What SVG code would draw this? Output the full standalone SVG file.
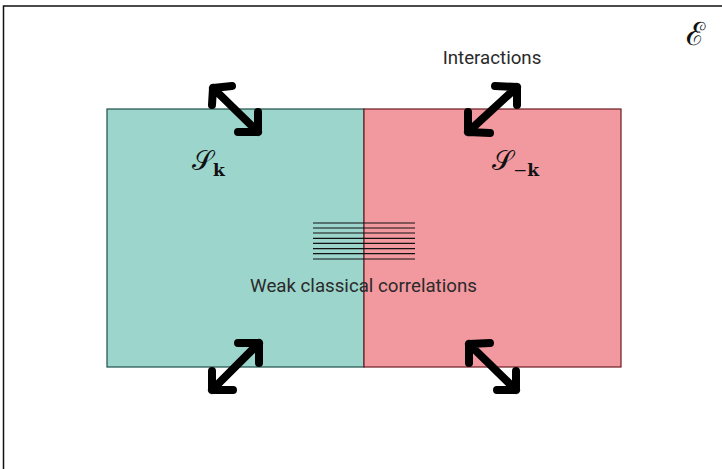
<svg xmlns="http://www.w3.org/2000/svg" width="722" height="469" viewBox="0 0 722 469">
  <style>
    .frame { fill: none; stroke: #111; stroke-width: 1.5; }
    .sys-a { fill: #9BD5CC; stroke: #1E5048; stroke-width: 1.2; }
    .sys-b { fill: #F2989F; stroke: #6E1A24; stroke-width: 1.2; }
    .link { fill: none; stroke: #000; stroke-width: 8; stroke-linecap: round; stroke-linejoin: round; }
    .hatch { stroke: #111; stroke-width: 1.2; }
    .label { font-family: Roboto, "Liberation Sans", sans-serif; font-size: 18.7px; fill: #2a2a2a; }
    .math { font-family: "DejaVu Serif", "Liberation Serif", serif; fill: #111; }
  </style>

  <rect width="722" height="469" fill="#fff"/>
  <!-- environment frame -->
  <path class="frame" d="M3.5,469 V6 H722"/>

  <g id="environment">
    <text class="math" x="686" y="45" font-size="32">ℰ</text>
  </g>

  <g id="system-k">
    <rect class="sys-a" x="107" y="109" width="257" height="258"/>
    <text class="math" x="192" y="170" font-size="27">𝒮<tspan font-size="17" font-weight="bold" dy="6">k</tspan></text>
  </g>

  <g id="system-minus-k">
    <rect class="sys-b" x="364" y="109" width="257" height="258"/>
    <text class="math" x="492" y="170" font-size="27">𝒮<tspan font-size="17" dy="6">−</tspan><tspan font-size="17" font-weight="bold">k</tspan></text>
  </g>

  <g id="correlations">
    <g class="hatch">
      <line x1="313" y1="223" x2="415" y2="223"/>
      <line x1="313" y1="228" x2="415" y2="228"/>
      <line x1="313" y1="233" x2="415" y2="233"/>
      <line x1="313" y1="238.3" x2="415" y2="238.3"/>
      <line x1="313" y1="243.3" x2="415" y2="243.3"/>
      <line x1="313" y1="248.7" x2="415" y2="248.7"/>
      <line x1="313" y1="253.7" x2="415" y2="253.7"/>
      <line x1="313" y1="259" x2="415" y2="259"/>
    </g>
    <text class="label" x="363.5" y="292" text-anchor="middle">Weak classical correlations</text>
  </g>

  <g id="interactions-label">
    <text class="label" x="492" y="64" text-anchor="middle">Interactions</text>
  </g>

  <!-- double-headed interaction arrows -->
  <g id="connectors">
    <path class="link" d="M213,88 L258,132 M232,86 L213,88 L212,105 M258,112 L258,132 L238,132"/>
    <path class="link" d="M517,87 L468,132 M495,86 L517,87 L517,105 M468,112 L468,132 L490,133"/>
    <path class="link" d="M259,343 L212,390 M238,343 L259,343 L259,363 M212,371 L212,390 L233,390"/>
    <path class="link" d="M469,344 L516,390 M490,343 L469,344 L469,363 M516,371 L516,390 L497,390"/>
  </g>
</svg>
